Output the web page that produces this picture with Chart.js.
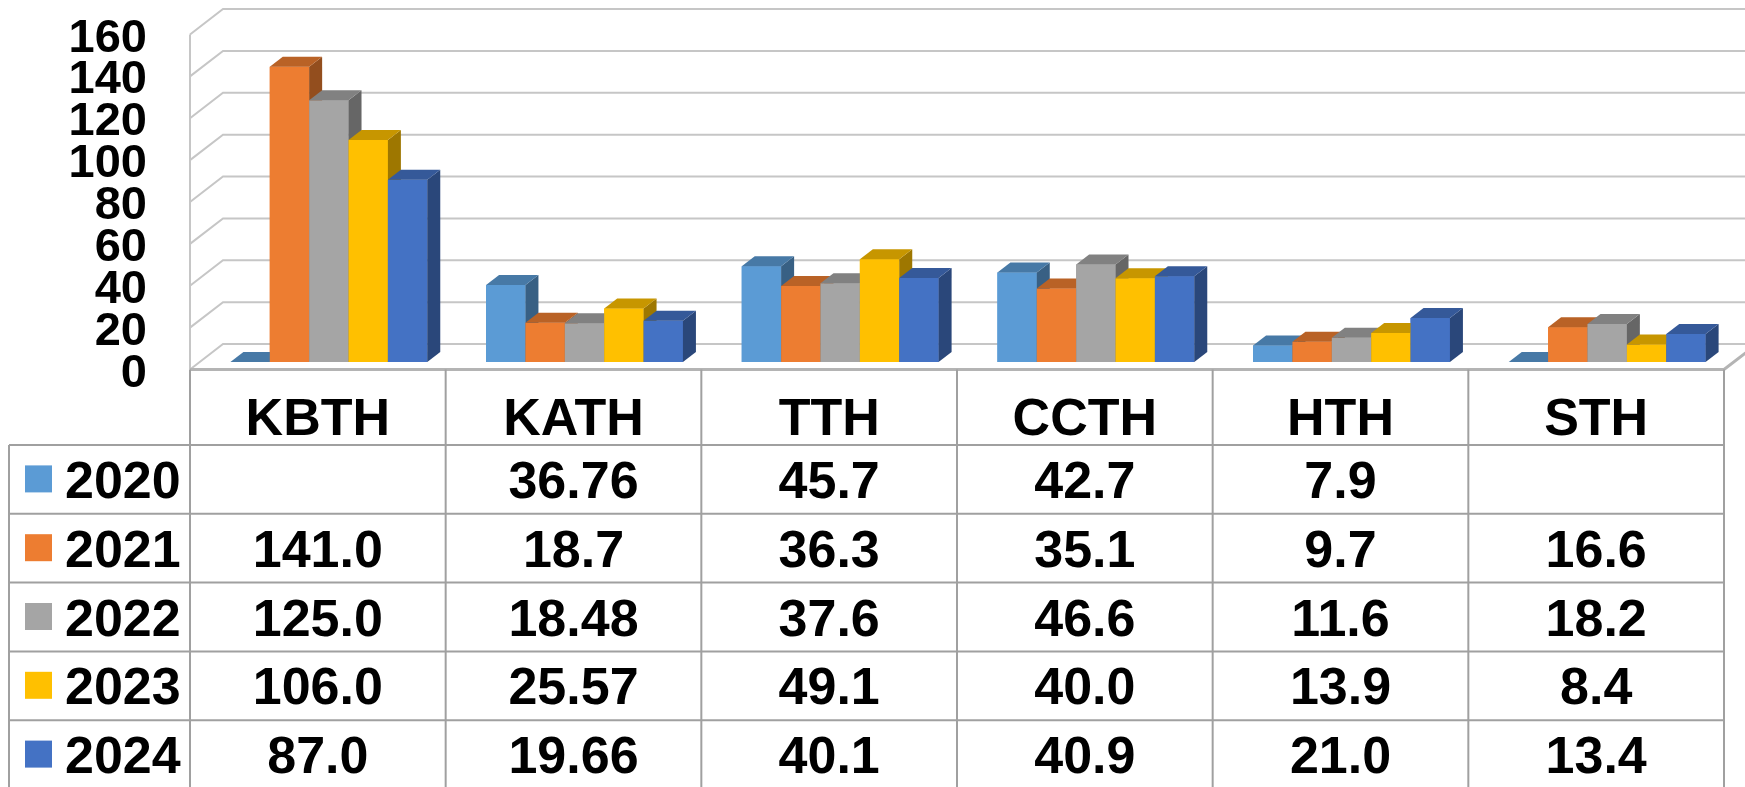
<!DOCTYPE html>
<html>
<head>
<meta charset="utf-8">
<script src="https://cdn.jsdelivr.net/npm/chart.js@4/dist/chart.umd.min.js"></script>
<style>
    html, body { margin: 0; padding: 0; background: #ffffff; }
    #wrap { width: 1745px; height: 787px; }
</style>
</head>
<body>
<div id="wrap"><canvas id="chart" width="1745" height="787"></canvas></div>
<script>
const categories = ["KBTH", "KATH", "TTH", "CCTH", "HTH", "STH"];
const seriesNames = ["2020", "2021", "2022", "2023", "2024"];
const values2020 = [null, 36.76, 45.7, 42.7, 7.9, null];
const values2021 = [141.0, 18.7, 36.3, 35.1, 9.7, 16.6];
const values2022 = [125.0, 18.48, 37.6, 46.6, 11.6, 18.2];
const values2023 = [106.0, 25.57, 49.1, 40.0, 13.9, 8.4];
const values2024 = [87.0, 19.66, 40.1, 40.9, 21.0, 13.4];
const seriesColors = ["#5B9BD5", "#ED7D31", "#A5A5A5", "#FFC000", "#4472C4"];
const yMax = 160;
const yStep = 20;

const allValues = [values2020, values2021, values2022, values2023, values2024];

const FONT = "'Liberation Sans', Arial, sans-serif";
// offsets of the front and back planes relative to the bar plane
const FRONT = { dx: -11, dy: 7.5 };
const BACK = { dx: 22, dy: -18 };
const DEPTH = { dx: 13, dy: -10 };
const HEADER_BOTTOM = 445;
const ROW_H = 68.8;

function shade(hex, f) {
    const n = parseInt(hex.slice(1), 16);
    const r = Math.round(((n >> 16) & 255) * f);
    const g = Math.round(((n >> 8) & 255) * f);
    const b = Math.round((n & 255) * f);
    return `rgb(${r},${g},${b})`;
}

function fmt(v) {
    if (v === null) return "";
    return Math.abs(Math.round(v * 10) - v * 10) < 1e-9 ? v.toFixed(1) : v.toFixed(2);
}

function poly(ctx, pts, color) {
    ctx.beginPath();
    ctx.moveTo(pts[0][0], pts[0][1]);
    for (let i = 1; i < pts.length; i++) ctx.lineTo(pts[i][0], pts[i][1]);
    ctx.closePath();
    ctx.fillStyle = color;
    ctx.fill();
}

const excel3d = {
    id: "excel3d",
    beforeDatasetsDraw(chart) {
        const { ctx, chartArea: area, scales: { y } } = chart;
        const frontLeft = area.left + FRONT.dx;
        const frontRight = area.right + FRONT.dx;
        const backLeft = area.left + BACK.dx;
        ctx.save();
        ctx.strokeStyle = "#C6C6C6";
        ctx.lineWidth = 2;
        for (let v = 0; v <= yMax; v += yStep) {
            const yb = y.getPixelForValue(v) + BACK.dy;
            ctx.beginPath();
            ctx.moveTo(chart.width + 40, yb);
            ctx.lineTo(backLeft, yb);
            ctx.lineTo(frontLeft, yb + FRONT.dy - BACK.dy);
            ctx.stroke();
        }
        // front left edge of the side wall
        ctx.beginPath();
        ctx.moveTo(frontLeft, y.getPixelForValue(yMax) + FRONT.dy);
        ctx.lineTo(frontLeft, y.getPixelForValue(0) + FRONT.dy);
        ctx.stroke();
        // floor front edge
        const y0f = y.getPixelForValue(0) + FRONT.dy;
        ctx.strokeStyle = "#B4B4B4";
        ctx.lineWidth = 3;
        ctx.beginPath();
        ctx.moveTo(frontLeft, y0f);
        ctx.lineTo(frontRight, y0f);
        ctx.lineTo(frontRight + BACK.dx - FRONT.dx, y0f + BACK.dy - FRONT.dy);
        ctx.stroke();

        // y tick labels on the front plane
        ctx.fillStyle = "#000000";
        ctx.font = `bold 47px ${FONT}`;
        ctx.textAlign = "right";
        ctx.textBaseline = "alphabetic";
        y.ticks.forEach((t) => {
            ctx.fillText(String(t.value), 147, y.getPixelForValue(t.value) + FRONT.dy + 17);
        });
        ctx.restore();
    },
    afterDatasetsDraw(chart) {
        const { ctx } = chart;
        ctx.save();
        categories.forEach((c, i) => {
            seriesNames.forEach((s, d) => {
                const el = chart.getDatasetMeta(d).data[i];
                const { x, y, base, width } = el.getProps(["x", "y", "base", "width"], true);
                const x1 = x - width / 2;
                const x2 = x + width / 2;
                const col = seriesColors[d];
                if (base - y > 0.5) {
                    poly(ctx, [[x1, y], [x2, y], [x2, base], [x1, base]], col);
                }
                poly(ctx, [[x2, y], [x2 + DEPTH.dx, y + DEPTH.dy], [x2 + DEPTH.dx, base + DEPTH.dy], [x2, base]], shade(col, 0.62));
                poly(ctx, [[x1, y], [x2, y], [x2 + DEPTH.dx, y + DEPTH.dy], [x1 + DEPTH.dx, y + DEPTH.dy]], shade(col, 0.78));
            });
        });
        ctx.restore();
    },
    afterDraw(chart) {
        const { ctx, chartArea: area, scales: { x, y } } = chart;
        const cw = (area.right - area.left) / categories.length;
        const left = area.left + FRONT.dx;
        const top = y.getPixelForValue(0) + FRONT.dy;
        const bottom = chart.height + 5;
        ctx.save();
        ctx.strokeStyle = "#A0A0A0";
        ctx.lineWidth = 2;
        // vertical lines
        for (let k = 0; k <= categories.length; k++) {
            const xx = left + k * cw;
            ctx.beginPath();
            ctx.moveTo(xx, top);
            ctx.lineTo(xx, bottom);
            ctx.stroke();
        }
        ctx.beginPath();
        ctx.moveTo(9, HEADER_BOTTOM);
        ctx.lineTo(9, bottom);
        ctx.stroke();
        for (let r = 0; r < seriesNames.length; r++) {
            const yy = HEADER_BOTTOM + r * ROW_H;
            ctx.beginPath();
            ctx.moveTo(9, yy);
            ctx.lineTo(left + categories.length * cw, yy);
            ctx.stroke();
        }

        ctx.fillStyle = "#000000";
        ctx.font = `bold 52px ${FONT}`;
        ctx.textBaseline = "alphabetic";
        ctx.textAlign = "center";
        categories.forEach((c, i) => {
            ctx.fillText(c, x.getPixelForValue(i) + FRONT.dx, 435);
        });
        seriesNames.forEach((s, d) => {
            const cy = HEADER_BOTTOM + (d + 0.5) * ROW_H;
            ctx.fillStyle = seriesColors[d];
            ctx.fillRect(25, cy - 14, 27, 27);
            ctx.fillStyle = "#000000";
            ctx.textAlign = "left";
            ctx.fillText(s, 65, cy + 18.5);
            ctx.textAlign = "center";
            allValues[d].forEach((v, i) => {
                ctx.fillText(fmt(v), x.getPixelForValue(i) + FRONT.dx, cy + 18.5);
            });
        });
        ctx.restore();
    }
};

new Chart(document.getElementById("chart"), {
    type: "bar",
    data: {
        labels: categories,
        datasets: seriesNames.map((name, d) => ({
            label: name,
            data: allValues[d].map((v) => v === null ? 0 : v),
            backgroundColor: seriesColors[d],
            borderWidth: 0,
            categoryPercentage: 0.77,
            barPercentage: 1.0
        }))
    },
    options: {
        responsive: false,
        animation: false,
        devicePixelRatio: 1,
        layout: {
            padding: { left: 201, right: 10, top: 27, bottom: 425 }
        },
        plugins: {
            legend: { display: false },
            tooltip: { enabled: false }
        },
        scales: {
            x: { display: false },
            y: {
                display: false,
                min: 0,
                max: yMax,
                ticks: { stepSize: yStep }
            }
        }
    },
    plugins: [excel3d]
});
</script>
</body>
</html>
